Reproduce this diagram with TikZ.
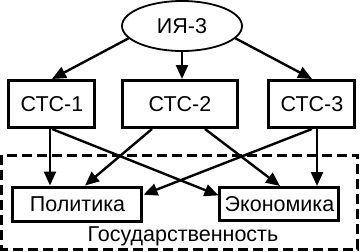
\documentclass[tikz,border=0pt]{standalone}
\usepackage{fontspec}
\setmainfont{Liberation Sans}
\usetikzlibrary{arrows.meta,shapes.geometric}
\begin{document}
\begin{tikzpicture}[x=1pt,y=-1pt,
  txt/.style={font=\fontsize{21.5}{24}\selectfont},
  box/.style={draw,line width=3pt,rectangle,inner sep=0pt,txt},
  arr/.style={line width=2.4pt,-{Triangle[length=14pt,width=12pt]}},
  grp/.style={draw,line width=3pt,dash pattern=on 10pt off 5pt}]
\useasboundingbox (0,0) rectangle (360,252);
\draw[grp] (2,155) rectangle (358,249);
\node[draw,line width=1.8pt,ellipse,minimum width=120pt,minimum height=50pt,inner sep=0pt,txt] (i) at (182,26) {ИЯ-3};
\node[box,minimum width=86pt,minimum height=47pt] (s1) at (52,104) {СТС-1};
\node[box,minimum width=115pt,minimum height=47pt] (s2) at (180,104) {СТС-2};
\node[box,minimum width=86pt,minimum height=47pt] (s3) at (312,104) {СТС-3};
\node[box,minimum width=129pt,minimum height=34pt] (p) at (77.5,204) {Политика};
\node[box,minimum width=119pt,minimum height=33pt] (e) at (279.5,204) {Экономика};
\node[txt] (g) at (183,236) {Государственность};
\draw[arr] (i.193) -- (s1.north);
\draw[arr] (i.south) -- (s2.north -| i.south);
\draw[arr] (i.-13) -- (s3.north);
\draw[arr] (s1.south -| 50,0) -- (p.north -| 50,0);
\draw[arr] (s1.south) -- (e.172);
\draw[arr] (s2.south -| 152,0) -- (p.north -| 85,0);
\draw[arr] (s2.south -| 205,0) -- (e.north -| 280,0);
\draw[arr] (s3.south) -- (p.8);
\draw[arr] (s3.south -| 317,0) -- (e.north -| 317,0);
\end{tikzpicture}
\end{document}
